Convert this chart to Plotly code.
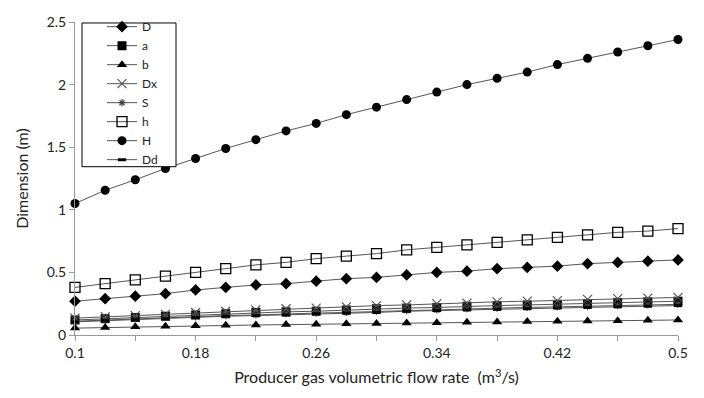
import plotly.graph_objects as go

flow = [0.10, 0.12, 0.14, 0.16, 0.18, 0.20, 0.22, 0.24, 0.26, 0.28, 0.30,
        0.32, 0.34, 0.36, 0.38, 0.40, 0.42, 0.44, 0.46, 0.48, 0.50]

D = [0.27, 0.29, 0.31, 0.33, 0.36, 0.38, 0.40, 0.41, 0.43, 0.45, 0.46,
     0.48, 0.50, 0.51, 0.53, 0.54, 0.55, 0.57, 0.58, 0.59, 0.60]
a = [0.12, 0.13, 0.14, 0.15, 0.16, 0.17, 0.18, 0.185, 0.19, 0.20, 0.21,
     0.215, 0.22, 0.23, 0.235, 0.24, 0.245, 0.25, 0.26, 0.265, 0.27]
b = [0.055, 0.060, 0.065, 0.069, 0.073, 0.077, 0.080, 0.083, 0.086, 0.089, 0.092,
     0.095, 0.098, 0.101, 0.104, 0.107, 0.109, 0.112, 0.114, 0.117, 0.120]
Dx = [0.135, 0.145, 0.155, 0.165, 0.18, 0.19, 0.20, 0.21, 0.215, 0.225, 0.235,
      0.24, 0.25, 0.255, 0.265, 0.27, 0.275, 0.285, 0.29, 0.295, 0.30]
S = [0.11, 0.12, 0.13, 0.14, 0.145, 0.155, 0.16, 0.17, 0.175, 0.18, 0.19,
     0.195, 0.20, 0.21, 0.215, 0.22, 0.225, 0.23, 0.235, 0.24, 0.245]
h = [0.38, 0.41, 0.44, 0.47, 0.50, 0.53, 0.56, 0.58, 0.61, 0.63, 0.65,
     0.68, 0.70, 0.72, 0.74, 0.76, 0.78, 0.80, 0.82, 0.83, 0.85]
H = [1.05, 1.156, 1.24, 1.33, 1.41, 1.49, 1.56, 1.63, 1.69, 1.76, 1.82,
     1.88, 1.94, 2.00, 2.05, 2.10, 2.16, 2.21, 2.26, 2.31, 2.36]
Dd = [0.105, 0.115, 0.125, 0.13, 0.14, 0.15, 0.155, 0.16, 0.17, 0.175, 0.18,
      0.19, 0.195, 0.20, 0.205, 0.21, 0.215, 0.22, 0.225, 0.23, 0.235]

x_ticks = [0.10, 0.14, 0.18, 0.22, 0.26, 0.30, 0.34, 0.38, 0.42, 0.46, 0.50]
x_ticklabels = ["0.1", "", "0.18", "", "0.26", "", "0.34", "", "0.42", "", "0.5"]
y_ticks = [0, 0.5, 1, 1.5, 2, 2.5]
y_ticklabels = ["0", "0.5", "1", "1.5", "2", "2.5"]

series = [
    ("D", D, dict(symbol="diamond", size=9, color="black")),
    ("a", a, dict(symbol="square", size=9, color="black")),
    ("b", b, dict(symbol="triangle-up", size=9, color="black")),
    ("Dx", Dx, dict(symbol="x-thin-open", size=9, color="#555555", line=dict(width=1.2, color="#555555"))),
    ("S", S, dict(symbol="asterisk-open", size=6, color="#444444", line=dict(width=1.2, color="#444444"))),
    ("h", h, dict(symbol="square-open", size=10, color="black", line=dict(width=1.3, color="black"))),
    ("H", H, dict(symbol="circle", size=9, color="black")),
    ("Dd", Dd, dict(symbol="line-ew-open", size=6, color="black", line=dict(width=3, color="black"))),
]

fig = go.Figure()
for name, vals, mk in series:
    fig.add_trace(go.Scatter(
        x=flow, y=vals, name=name, mode="lines+markers",
        line=dict(color="#555555", width=1),
        marker=mk, cliponaxis=False,
    ))

# legend frame (Excel-like box)
fig.add_shape(type="rect", xref="paper", yref="paper",
              x0=(82 - 75) / 603, x1=(176 - 75) / 603,
              y0=(335 - 164) / 318, y1=(335 - 18) / 318,
              line=dict(color="black", width=1), fillcolor="white", layer="above")

fig.update_layout(
    width=704, height=398,
    margin=dict(l=75, r=26, t=17, b=63),
    paper_bgcolor="white", plot_bgcolor="white",
    font=dict(family="Lato, Open Sans, sans-serif", color="#222222", size=14),
    showlegend=True,
    legend=dict(
        x=(102 - 75) / 603, y=(335 - 7) / 318, xanchor="left", yanchor="top",
        borderwidth=0, bgcolor="rgba(0,0,0,0)",
        font=dict(size=12, color="#222222"),
        tracegroupgap=0, itemwidth=30,
    ),
    xaxis=dict(
        range=[0.1, 0.5], tickmode="array", tickvals=x_ticks, ticktext=x_ticklabels,
        showgrid=False, zeroline=False, showline=True, linecolor="#999999", linewidth=1,
        ticks="outside", ticklen=5, tickcolor="#999999",
        title=dict(text="Producer gas volumetric flow rate  (m<sup>3</sup>/s)", font=dict(size=16), standoff=12),
    ),
    yaxis=dict(
        range=[0, 2.5], tickmode="array", tickvals=y_ticks, ticktext=y_ticklabels,
        showgrid=False, zeroline=False, showline=True, linecolor="#999999", linewidth=1,
        ticks="outside", ticklen=5, tickcolor="#999999",
        title=dict(text="Dimension (m)", font=dict(size=16), standoff=14),
    ),
)

fig.write_html("out.html")
